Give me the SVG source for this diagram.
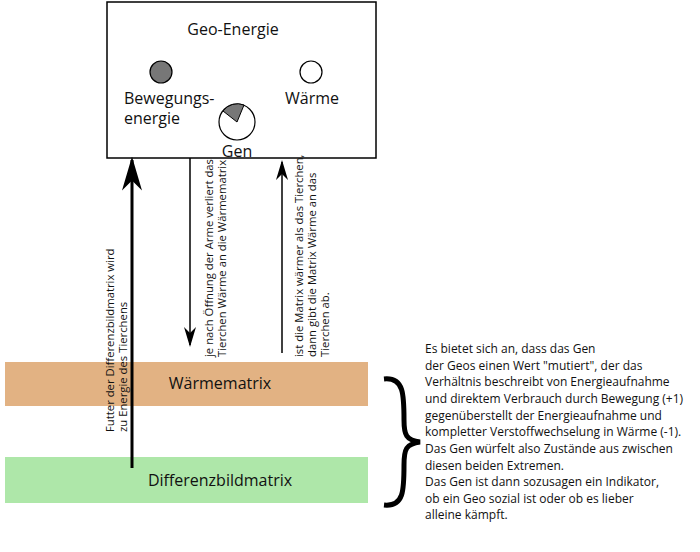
<svg xmlns="http://www.w3.org/2000/svg" width="700" height="552" viewBox="0 0 700 552">
<defs>
<style>
text{font-family:"Open Sans","Liberation Sans",sans-serif;fill:#111}
.big{font-size:16px}
.sm{font-size:11.3px}
.rt{font-size:12px}
.ln{stroke:#000;fill:none}
</style>
<marker id="ah" viewBox="0 0 10 10" refX="9" refY="5" markerWidth="20" markerHeight="12" orient="auto" markerUnits="userSpaceOnUse" preserveAspectRatio="none"><path d="M0,0 L10,5 L0,10 L3,5 z" fill="#000"/></marker>
<marker id="ahb" viewBox="0 0 10 10" refX="9" refY="5" markerWidth="34" markerHeight="20" orient="auto" markerUnits="userSpaceOnUse" preserveAspectRatio="none"><path d="M0,0 L10,5 L0,10 L3,5 z" fill="#000"/></marker>
</defs>
<rect width="700" height="552" fill="#fff"/>
<g id="geo-energie">
<rect x="107" y="2" width="269" height="156" fill="#fff" stroke="#000" stroke-width="1.5"/>
<text class="big" x="233" y="35" text-anchor="middle">Geo-Energie</text>
<circle cx="161" cy="72" r="11" fill="#777" stroke="#000" stroke-width="1.2"/>
<circle cx="311" cy="72" r="11" fill="#fff" stroke="#000" stroke-width="1.2"/>
<circle cx="237" cy="122" r="18" fill="#fff" stroke="#000" stroke-width="1.2"/>
<path d="M237,122 L223,111 A18,18 0 0 1 244,105 Z" fill="#777" stroke="#000" stroke-width="1"/>
<text class="big" x="124" y="104">Bewegungs-</text>
<text class="big" x="124" y="124">energie</text>
<text class="big" x="285" y="104">Wärme</text>
<text class="big" x="237" y="157" text-anchor="middle">Gen</text>
</g>
<g id="waermematrix">
<rect x="5" y="362" width="363" height="44" fill="#e2b283"/>
<text class="big" x="220" y="389" text-anchor="middle">Wärmematrix</text>
</g>
<g id="differenzbildmatrix">
<rect x="5" y="457" width="363" height="46" fill="#aee7a9"/>
<text class="big" x="220" y="486" text-anchor="middle">Differenzbildmatrix</text>
</g>
<g id="connectors">
<line class="ln" x1="132" y1="468" x2="132" y2="160" stroke-width="3" marker-end="url(#ahb)"/>
<line class="ln" x1="190" y1="158" x2="190" y2="345" stroke-width="1.5" marker-end="url(#ah)"/>
<line class="ln" x1="282" y1="353" x2="282" y2="162" stroke-width="1.5" marker-end="url(#ah)"/>
<path d="M384,379 C404,377 404,395 404,420 C404,435 406,440 420,442 C406,444 404,449 404,465 C404,490 404,507 384,505" class="ln" stroke-width="5"/>
</g>
<g id="labels">
<text class="sm" transform="translate(114,432) rotate(-90)">Futter der Differenzbildmatrix wird</text>
<text class="sm" transform="translate(127,432) rotate(-90)">zu Energie des Tierchens</text>
<text class="sm" transform="translate(213,357) rotate(-90)">je nach Öffnung der Arme verliert das</text>
<text class="sm" transform="translate(226,357) rotate(-90)">Tierchen Wärme an die Wärmematrix</text>
<text class="sm" transform="translate(303,357) rotate(-90)">ist die Matrix wärmer als das Tierchen,</text>
<text class="sm" transform="translate(316,357) rotate(-90)">dann gibt die Matrix Wärme an das</text>
<text class="sm" transform="translate(329,357) rotate(-90)">Tierchen ab.</text>
<text class="rt" x="425" y="353">Es bietet sich an, dass das Gen</text>
<text class="rt" x="425" y="370">der Geos  einen Wert "mutiert", der das</text>
<text class="rt" x="425" y="386">Verhältnis beschreibt von Energieaufnahme</text>
<text class="rt" x="425" y="403">und direktem Verbrauch  durch Bewegung (+1)</text>
<text class="rt" x="425" y="420">gegenüberstellt der Energieaufnahme und</text>
<text class="rt" x="425" y="436">kompletter Verstoffwechselung in Wärme (-1).</text>
<text class="rt" x="425" y="453">Das Gen würfelt also Zustände aus zwischen</text>
<text class="rt" x="425" y="470">diesen beiden Extremen.</text>
<text class="rt" x="425" y="486">Das Gen ist dann sozusagen ein Indikator,</text>
<text class="rt" x="425" y="503">ob ein Geo sozial ist oder ob es lieber</text>
<text class="rt" x="425" y="519">alleine kämpft.</text>
</g>
</svg>
